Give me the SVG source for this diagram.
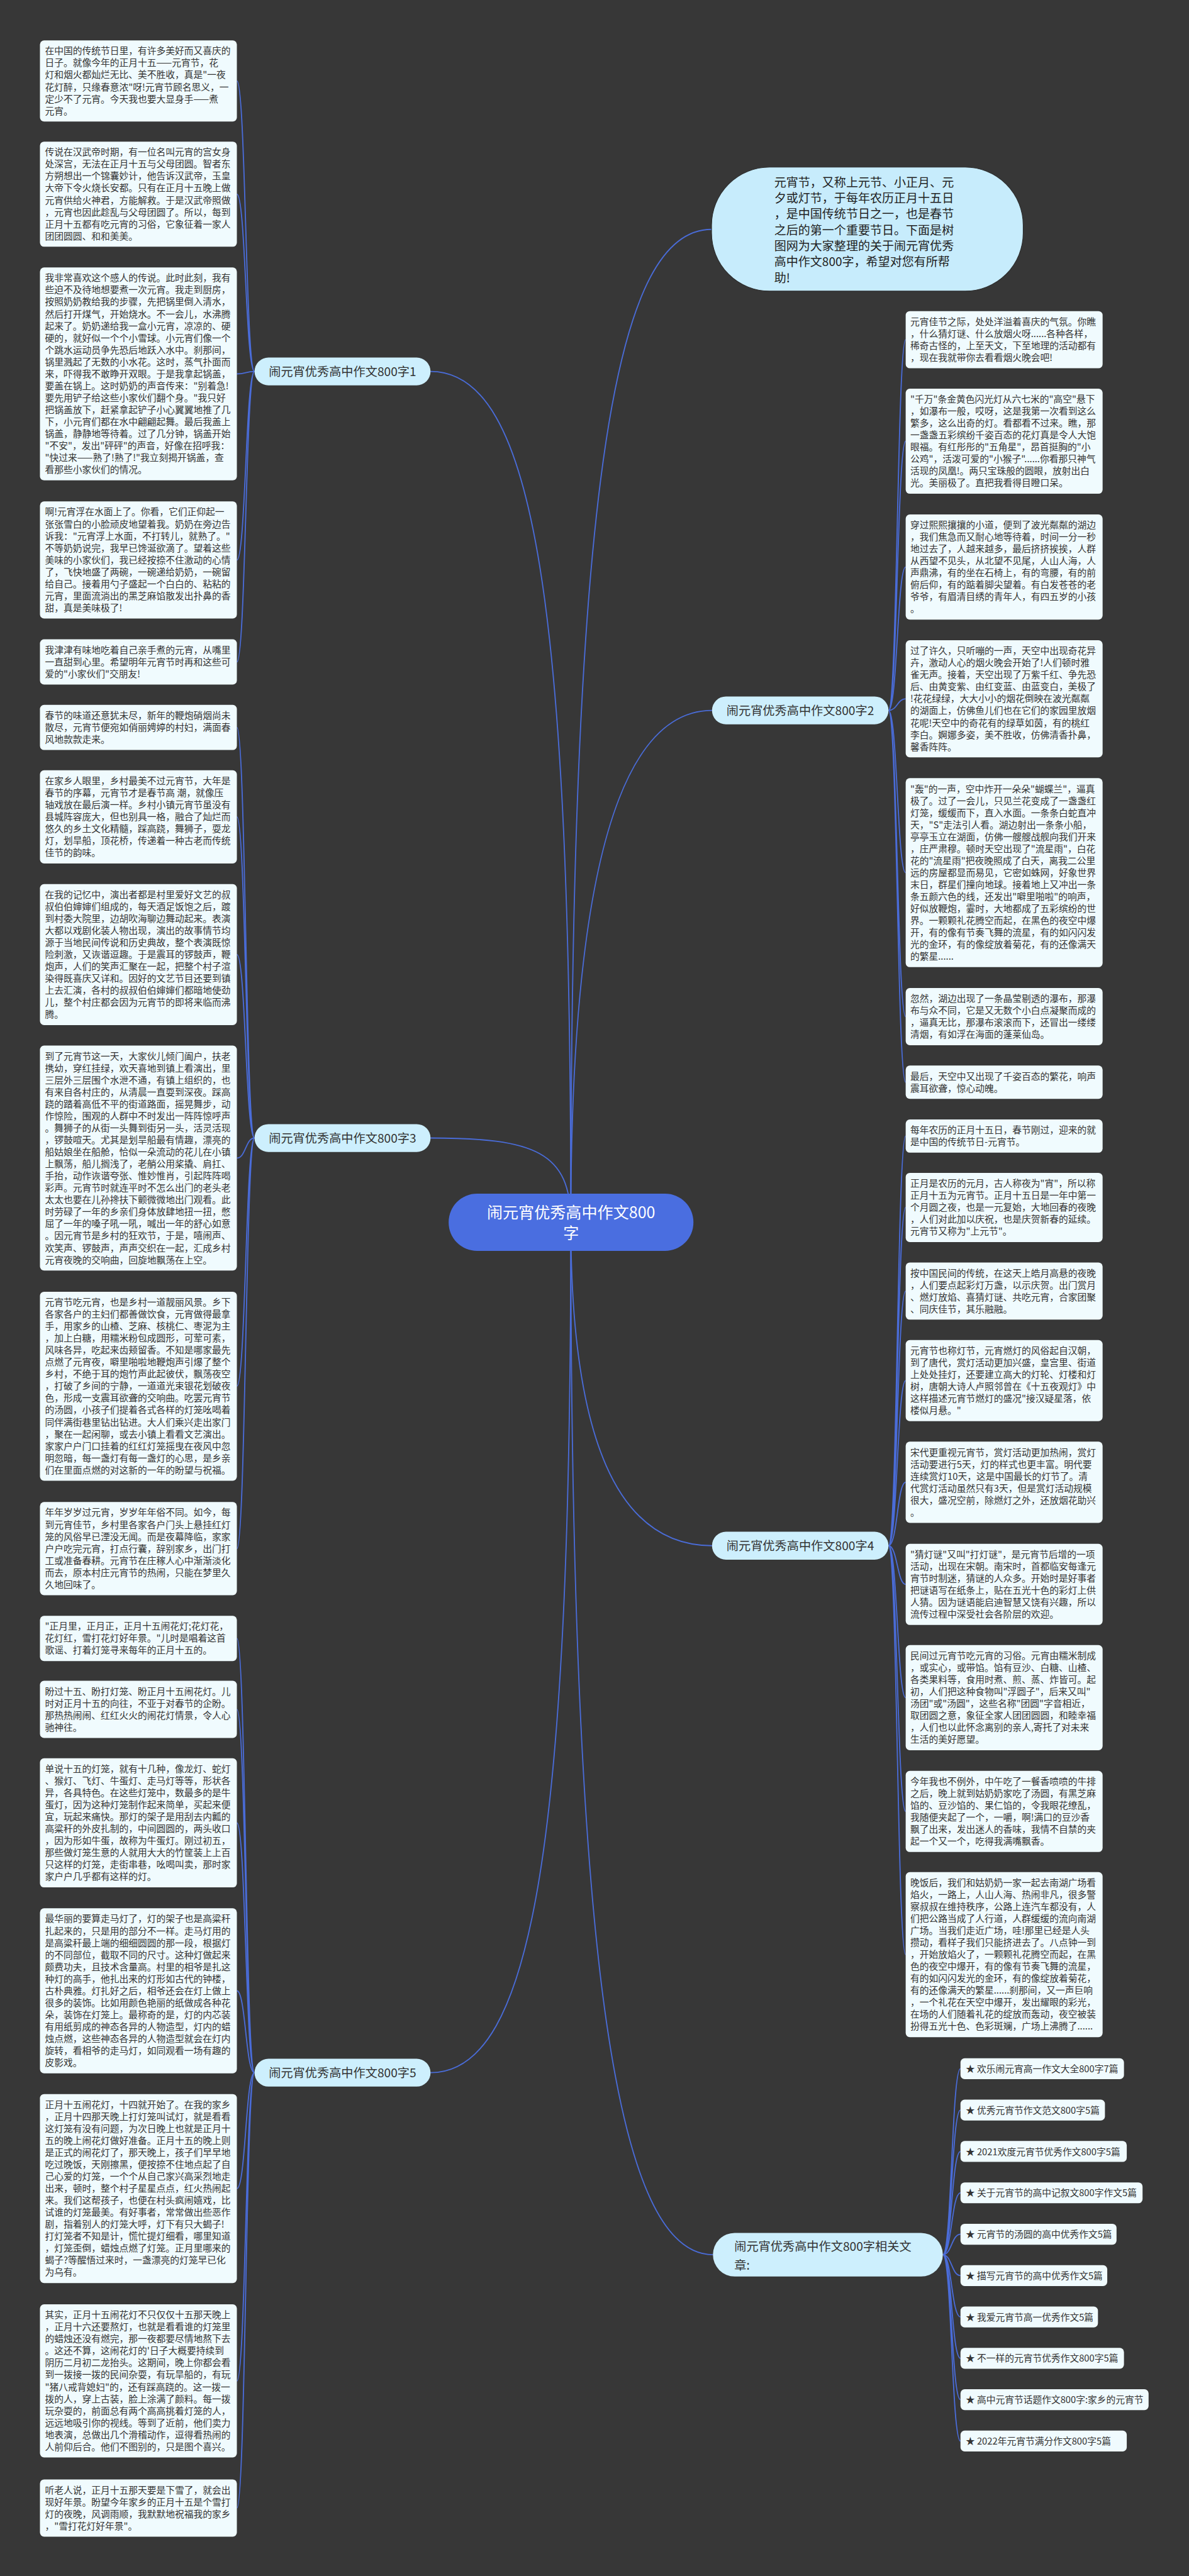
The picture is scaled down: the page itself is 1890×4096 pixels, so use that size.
<svg xmlns="http://www.w3.org/2000/svg" width="1890" height="4096" viewBox="0 0 1890 4096">
<style>
.bg{fill:#373737}
.bx{fill:#f0fbfe}
.nd{fill:#cdeffd}
.lk{fill:none;stroke:#4a6cd8;stroke-width:2.5}
.t{font-family:"Noto Sans CJK SC","Noto Sans",sans-serif;font-size:20px;fill:#333}
.nt{font-family:"Noto Sans CJK SC","Noto Sans",sans-serif;font-size:26px;fill:#333;text-anchor:middle}
.it{font-family:"Noto Sans CJK SC","Noto Sans",sans-serif;font-size:25.8px;fill:#222}
.ct{font-family:"Noto Sans CJK SC","Noto Sans",sans-serif;font-size:34px;fill:#fff;text-anchor:middle}
</style>
<rect class="bg" width="1890" height="4096"/>
<g transform="scale(0.738281)">
<g id="connectors">
<path class="lk" d="M927,800 C1150,800 1229,1300 1229,2632"/>
<path class="lk" d="M927,2451 C1150,2451 1229,2480 1229,2632"/>
<path class="lk" d="M927,4464 C1150,4464 1229,3950 1229,2632"/>
<path class="lk" d="M1229,2632 C1229,1900 1330,1530 1533,1530"/>
<path class="lk" d="M1229,2632 C1229,3100 1330,3329 1533,3329"/>
<path class="lk" d="M1229,2632 C1229,4250 1330,4856 1535,4856"/>
<path class="lk" d="M1229,2632 C1229,1000 1330,494 1532,494"/>
<path class="lk" d="M548,800 C529,800 529,174.4 510,174.4 M548,800 C529,800 529,418.2 510,418.2 M548,800 C529,800 529,805.3 510,805.3 M548,800 C529,800 529,1206.1 510,1206.1 M548,800 C529,800 529,1425.7 510,1425.7"/>
<path class="lk" d="M548,2451 C529,2451 529,1566.7 510,1566.7 M548,2451 C529,2451 529,1759.3 510,1759.3 M548,2451 C529,2451 529,2055.9 510,2055.9 M548,2451 C529,2451 529,2494.2 510,2494.2 M548,2451 C529,2451 529,2985.5 510,2985.5 M548,2451 C529,2451 529,3335.3 510,3335.3"/>
<path class="lk" d="M548,4464 C529,4464 529,3528.7 510,3528.7 M548,4464 C529,4464 529,3681.6 510,3681.6 M548,4464 C529,4464 529,3926 510,3926 M548,4464 C529,4464 529,4287.7 510,4287.7 M548,4464 C529,4464 529,4713.5 510,4713.5 M548,4464 C529,4464 529,5127.8 510,5127.8 M548,4464 C529,4464 529,5401.6 510,5401.6"/>
<path class="lk" d="M1913,1530 C1932,1530 1932,731.6 1950,731.6 M1913,1530 C1932,1530 1932,950.2 1950,950.2 M1913,1530 C1932,1530 1932,1221.2 1950,1221.2 M1913,1530 C1932,1530 1932,1505.1 1950,1505.1 M1913,1530 C1932,1530 1932,1879.5 1950,1879.5 M1913,1530 C1932,1530 1932,2189.6 1950,2189.6 M1913,1530 C1932,1530 1932,2330.8 1950,2330.8"/>
<path class="lk" d="M1913,3329 C1932,3329 1932,2446.8 1950,2446.8 M1913,3329 C1932,3329 1932,2600.5 1950,2600.5 M1913,3329 C1932,3329 1932,2780.6 1950,2780.6 M1913,3329 C1932,3329 1932,2973.4 1950,2973.4 M1913,3329 C1932,3329 1932,3192.4 1950,3192.4 M1913,3329 C1932,3329 1932,3412.4 1950,3412.4 M1913,3329 C1932,3329 1932,3656.2 1950,3656.2 M1913,3329 C1932,3329 1932,3901.4 1950,3901.4 M1913,3329 C1932,3329 1932,4209.7 1950,4209.7"/>
<path class="lk" d="M2030,4856 C2049,4856 2049,4455.5 2068,4455.5 M2030,4856 C2049,4856 2049,4544.6 2068,4544.6 M2030,4856 C2049,4856 2049,4633.7 2068,4633.7 M2030,4856 C2049,4856 2049,4722.8 2068,4722.8 M2030,4856 C2049,4856 2049,4811.9 2068,4811.9 M2030,4856 C2049,4856 2049,4901 2068,4901 M2030,4856 C2049,4856 2049,4990.1 2068,4990.1 M2030,4856 C2049,4856 2049,5079.2 2068,5079.2 M2030,4856 C2049,4856 2049,5168.3 2068,5168.3 M2030,4856 C2049,4856 2049,5257.4 2068,5257.4"/>
</g>

<g id="n-center"><rect x="966" y="2571" width="527" height="123" rx="61" fill="#4a6ee0"/><text class="ct"><tspan x="1229.5" y="2623">闹元宵优秀高中作文800</tspan><tspan x="1229.5" y="2668">字</tspan></text></g>

<g id="n-intro"><rect x="1532" y="360" width="671" height="267" rx="125" fill="#c7ecfc" stroke="#2a2a2a" stroke-width="1.5"/><text class="it"><tspan x="1667" y="402">元宵节，又称上元节、小正月、元</tspan><tspan x="1667" y="436.3">夕或灯节，于每年农历正月十五日</tspan><tspan x="1667" y="470.6">，是中国传统节日之一，也是春节</tspan><tspan x="1667" y="504.9">之后的第一个重要节日。下面是树</tspan><tspan x="1667" y="539.2">图网为大家整理的关于闹元宵优秀</tspan><tspan x="1667" y="573.5">高中作文800字，希望对您有所帮</tspan><tspan x="1667" y="607.8">助!</tspan></text></g>

<g id="n-b1"><rect class="nd" x="548" y="770" width="379" height="60" rx="30"/><text class="nt" x="737.5" y="810">闹元宵优秀高中作文800字1</text></g>
<g id="n-b3"><rect class="nd" x="548" y="2421" width="379" height="60" rx="30"/><text class="nt" x="737.5" y="2461">闹元宵优秀高中作文800字3</text></g>
<g id="n-b5"><rect class="nd" x="548" y="4434" width="379" height="60" rx="30"/><text class="nt" x="737.5" y="4474">闹元宵优秀高中作文800字5</text></g>
<g id="n-b2"><rect class="nd" x="1533" y="1500" width="380" height="60" rx="30"/><text class="nt" x="1723" y="1540">闹元宵优秀高中作文800字2</text></g>
<g id="n-b4"><rect class="nd" x="1533" y="3299" width="380" height="60" rx="30"/><text class="nt" x="1723" y="3339">闹元宵优秀高中作文800字4</text></g>
<g id="n-rel"><rect class="nd" x="1535" y="4809" width="495" height="94" rx="47"/><text class="nt" style="text-anchor:start"><tspan x="1581" y="4848">闹元宵优秀高中作文800字相关文</tspan><tspan x="1581" y="4888">章:</tspan></text></g>

<g id="n-l1"><rect class="bx" x="86" y="87" width="424" height="174.8" rx="9"/><text class="t" y="117"><tspan x="97">在中国的传统节日里，有许多美好而又喜庆的</tspan><tspan x="97" dy="25.8">日子。就像今年的正月十五——元宵节，花</tspan><tspan x="97" dy="25.8">灯和烟火都灿烂无比、美不胜收，真是"一夜</tspan><tspan x="97" dy="25.8">花灯醉，只缘春意浓"呀!元宵节顾名思义，一</tspan><tspan x="97" dy="25.8">定少不了元宵。今天我也要大显身手——煮</tspan><tspan x="97" dy="25.8">元宵。</tspan></text></g>
<g id="n-l2"><rect class="bx" x="86" y="305" width="424" height="226.4" rx="9"/><text class="t" y="335"><tspan x="97">传说在汉武帝时期，有一位名叫元宵的宫女身</tspan><tspan x="97" dy="25.8">处深宫，无法在正月十五与父母团圆。智者东</tspan><tspan x="97" dy="25.8">方朔想出一个锦囊妙计，他告诉汉武帝，玉皇</tspan><tspan x="97" dy="25.8">大帝下令火烧长安都。只有在正月十五晚上做</tspan><tspan x="97" dy="25.8">元宵供给火神君，方能解救。于是汉武帝照做</tspan><tspan x="97" dy="25.8">，元宵也因此趁乱与父母团圆了。所以，每到</tspan><tspan x="97" dy="25.8">正月十五都有吃元宵的习俗，它象征着一家人</tspan><tspan x="97" dy="25.8">团团圆圆、和和美美。</tspan></text></g>
<g id="n-l3"><rect class="bx" x="86" y="576" width="424" height="458.6" rx="9"/><text class="t" y="606"><tspan x="97">我非常喜欢这个感人的传说。此时此刻，我有</tspan><tspan x="97" dy="25.8">些迫不及待地想要煮一次元宵。我走到厨房，</tspan><tspan x="97" dy="25.8">按照奶奶教给我的步骤，先把锅里倒入清水，</tspan><tspan x="97" dy="25.8">然后打开煤气，开始烧水。不一会儿，水沸腾</tspan><tspan x="97" dy="25.8">起来了。奶奶递给我一盒小元宵，凉凉的、硬</tspan><tspan x="97" dy="25.8">硬的，就好似一个个小雪球。小元宵们像一个</tspan><tspan x="97" dy="25.8">个跳水运动员争先恐后地跃入水中。刹那间，</tspan><tspan x="97" dy="25.8">锅里溅起了无数的小水花。这时，蒸气扑面而</tspan><tspan x="97" dy="25.8">来，吓得我不敢睁开双眼。于是我拿起锅盖，</tspan><tspan x="97" dy="25.8">要盖在锅上。这时奶奶的声音传来："别着急!</tspan><tspan x="97" dy="25.8">要先用铲子给这些小家伙们翻个身。"我只好</tspan><tspan x="97" dy="25.8">把锅盖放下，赶紧拿起铲子小心翼翼地推了几</tspan><tspan x="97" dy="25.8">下，小元宵们都在水中翩翩起舞。最后我盖上</tspan><tspan x="97" dy="25.8">锅盖，静静地等待着。过了几分钟，锅盖开始</tspan><tspan x="97" dy="25.8">"不安"，发出"砰砰"的声音，好像在招呼我：</tspan><tspan x="97" dy="25.8">"快过来——熟了!熟了!"我立刻揭开锅盖，查</tspan><tspan x="97" dy="25.8">看那些小家伙们的情况。</tspan></text></g>
<g id="n-l4"><rect class="bx" x="86" y="1080" width="424" height="252.2" rx="9"/><text class="t" y="1110"><tspan x="97">啊!元宵浮在水面上了。你看，它们正仰起一</tspan><tspan x="97" dy="25.8">张张雪白的小脸顽皮地望着我。奶奶在旁边告</tspan><tspan x="97" dy="25.8">诉我："元宵浮上水面，不打转儿，就熟了。"</tspan><tspan x="97" dy="25.8">不等奶奶说完，我早已馋涎欲滴了。望着这些</tspan><tspan x="97" dy="25.8">美味的小家伙们，我已经按捺不住激动的心情</tspan><tspan x="97" dy="25.8">了，飞快地盛了两碗，一碗递给奶奶，一碗留</tspan><tspan x="97" dy="25.8">给自己。接着用勺子盛起一个白白的、粘粘的</tspan><tspan x="97" dy="25.8">元宵，里面流淌出的黑芝麻馅散发出扑鼻的香</tspan><tspan x="97" dy="25.8">甜，真是美味极了!</tspan></text></g>
<g id="n-l5"><rect class="bx" x="86" y="1377" width="424" height="97.4" rx="9"/><text class="t" y="1407"><tspan x="97">我津津有味地吃着自己亲手煮的元宵，从嘴里</tspan><tspan x="97" dy="25.8">一直甜到心里。希望明年元宵节时再和这些可</tspan><tspan x="97" dy="25.8">爱的"小家伙们"交朋友!</tspan></text></g>
<g id="n-l6"><rect class="bx" x="86" y="1518" width="424" height="97.4" rx="9"/><text class="t" y="1548"><tspan x="97">春节的味道还意犹未尽，新年的鞭炮硝烟尚未</tspan><tspan x="97" dy="25.8">散尽，元宵节便宛如俏丽娉婷的村妇，满面春</tspan><tspan x="97" dy="25.8">风地款款走来。</tspan></text></g>
<g id="n-l7"><rect class="bx" x="86" y="1659" width="424" height="200.6" rx="9"/><text class="t" y="1689"><tspan x="97">在家乡人眼里，乡村最美不过元宵节，大年是</tspan><tspan x="97" dy="25.8">春节的序幕，元宵节才是春节高 潮，就像压</tspan><tspan x="97" dy="25.8">轴戏放在最后演一样。乡村小镇元宵节虽没有</tspan><tspan x="97" dy="25.8">县城阵容庞大，但也别具一格，融合了灿烂而</tspan><tspan x="97" dy="25.8">悠久的乡土文化精髓，踩高跷，舞狮子，耍龙</tspan><tspan x="97" dy="25.8">灯，划旱船，顶花桥，传递着一种古老而传统</tspan><tspan x="97" dy="25.8">佳节的韵味。</tspan></text></g>
<g id="n-l8"><rect class="bx" x="86" y="1904" width="424" height="303.8" rx="9"/><text class="t" y="1934"><tspan x="97">在我的记忆中，演出者都是村里爱好文艺的叔</tspan><tspan x="97" dy="25.8">叔伯伯婶婶们组成的，每天酒足饭饱之后，踱</tspan><tspan x="97" dy="25.8">到村委大院里，边胡吹海聊边舞动起来。表演</tspan><tspan x="97" dy="25.8">大都以戏剧化装人物出现，演出的故事情节均</tspan><tspan x="97" dy="25.8">源于当地民间传说和历史典故，整个表演既惊</tspan><tspan x="97" dy="25.8">险刺激，又诙谐逗趣。于是震耳的锣鼓声，鞭</tspan><tspan x="97" dy="25.8">炮声，人们的笑声汇聚在一起，把整个村子渲</tspan><tspan x="97" dy="25.8">染得既喜庆又详和。因好的文艺节目还要到镇</tspan><tspan x="97" dy="25.8">上去汇演，各村的叔叔伯伯婶婶们都暗地使劲</tspan><tspan x="97" dy="25.8">儿，整个村庄都会因为元宵节的即将来临而沸</tspan><tspan x="97" dy="25.8">腾。</tspan></text></g>
<g id="n-l9"><rect class="bx" x="86" y="2252" width="424" height="484.4" rx="9"/><text class="t" y="2282"><tspan x="97">到了元宵节这一天，大家伙儿倾门阖户，扶老</tspan><tspan x="97" dy="25.8">携幼，穿红挂绿，欢天喜地到镇上看演出，里</tspan><tspan x="97" dy="25.8">三层外三层围个水泄不通，有镇上组织的，也</tspan><tspan x="97" dy="25.8">有来自各村庄的，从清晨一直耍到深夜。踩高</tspan><tspan x="97" dy="25.8">跷的踏着高低不平的街道路面，摇晃舞步，动</tspan><tspan x="97" dy="25.8">作惊险，围观的人群中不时发出一阵阵惊呼声</tspan><tspan x="97" dy="25.8">。舞狮子的从街一头舞到街另一头，活灵活现</tspan><tspan x="97" dy="25.8">，锣鼓喧天。尤其是划旱船最有情趣，漂亮的</tspan><tspan x="97" dy="25.8">船姑娘坐在船舱，恰似一朵流动的花儿在小镇</tspan><tspan x="97" dy="25.8">上飘荡，船儿搁浅了，老艄公用桨撬、肩扛、</tspan><tspan x="97" dy="25.8">手抬，动作诙谐夸张、惟妙惟肖，引起阵阵喝</tspan><tspan x="97" dy="25.8">彩声。元宵节时就连平时不怎么出门的老头老</tspan><tspan x="97" dy="25.8">太太也要在儿孙搀扶下颤微微地出门观看。此</tspan><tspan x="97" dy="25.8">时劳碌了一年的乡亲们身体放肆地扭一扭，憋</tspan><tspan x="97" dy="25.8">屈了一年的嗓子吼一吼，喊出一年的舒心如意</tspan><tspan x="97" dy="25.8">。因元宵节是乡村的狂欢节，于是，嘻闹声、</tspan><tspan x="97" dy="25.8">欢笑声、锣鼓声，声声交织在一起，汇成乡村</tspan><tspan x="97" dy="25.8">元宵夜晚的交响曲，回旋地飘荡在上空。</tspan></text></g>
<g id="n-l10"><rect class="bx" x="86" y="2782" width="424" height="407" rx="9"/><text class="t" y="2812"><tspan x="97">元宵节吃元宵，也是乡村一道靓丽风景。乡下</tspan><tspan x="97" dy="25.8">各家各户的主妇们都善做饮食，元宵做得最拿</tspan><tspan x="97" dy="25.8">手，用家乡的山楂、芝麻、核桃仁、枣泥为主</tspan><tspan x="97" dy="25.8">，加上白糖，用糯米粉包成圆形，可荤可素，</tspan><tspan x="97" dy="25.8">风味各异，吃起来齿颊留香。不知是哪家最先</tspan><tspan x="97" dy="25.8">点燃了元宵夜，噼里啪啦地鞭炮声引爆了整个</tspan><tspan x="97" dy="25.8">乡村，不绝于耳的炮竹声此起彼伏，飘荡夜空</tspan><tspan x="97" dy="25.8">，打破了乡间的宁静，一道道光束银花划破夜</tspan><tspan x="97" dy="25.8">色，形成一支震耳欲聋的交响曲。吃罢元宵节</tspan><tspan x="97" dy="25.8">的汤圆，小孩子们提着各式各样的灯笼吆喝着</tspan><tspan x="97" dy="25.8">同伴满街巷里钻出钻进。大人们乘兴走出家门</tspan><tspan x="97" dy="25.8">，聚在一起闲聊，或去小镇上看看文艺演出。</tspan><tspan x="97" dy="25.8">家家户户门口挂着的红红灯笼摇曳在夜风中忽</tspan><tspan x="97" dy="25.8">明忽暗，每一盏灯有每一盏灯的心思，是乡亲</tspan><tspan x="97" dy="25.8">们在里面点燃的对这新的一年的盼望与祝福。</tspan></text></g>
<g id="n-l11"><rect class="bx" x="86" y="3235" width="424" height="200.6" rx="9"/><text class="t" y="3265"><tspan x="97">年年岁岁过元宵，岁岁年年俗不同。如今，每</tspan><tspan x="97" dy="25.8">到元宵佳节，乡村里各家各户门头上悬挂红灯</tspan><tspan x="97" dy="25.8">笼的风俗早已湮没无闻。而是夜幕降临，家家</tspan><tspan x="97" dy="25.8">户户吃完元宵，打点行囊，辞别家乡，出门打</tspan><tspan x="97" dy="25.8">工或准备春耕。元宵节在庄稼人心中渐渐淡化</tspan><tspan x="97" dy="25.8">而去，原本村庄元宵节的热闹，只能在梦里久</tspan><tspan x="97" dy="25.8">久地回味了。</tspan></text></g>
<g id="n-l12"><rect class="bx" x="86" y="3480" width="424" height="97.4" rx="9"/><text class="t" y="3510"><tspan x="97">"正月里，正月正，正月十五闹花灯;花灯花，</tspan><tspan x="97" dy="25.8">花灯红，雪打花灯好年景。"儿时是唱着这首</tspan><tspan x="97" dy="25.8">歌谣、打着灯笼寻来每年的正月十五的。</tspan></text></g>
<g id="n-l13"><rect class="bx" x="86" y="3620" width="424" height="123.2" rx="9"/><text class="t" y="3650"><tspan x="97">盼过十五、盼打灯笼、盼正月十五闹花灯。儿</tspan><tspan x="97" dy="25.8">时对正月十五的向往，不亚于对春节的企盼。</tspan><tspan x="97" dy="25.8">那热热闹闹、红红火火的闹花灯情景，令人心</tspan><tspan x="97" dy="25.8">驰神往。</tspan></text></g>
<g id="n-l14"><rect class="bx" x="86" y="3787" width="424" height="278" rx="9"/><text class="t" y="3817"><tspan x="97">单说十五的灯笼，就有十几种，像龙灯、蛇灯</tspan><tspan x="97" dy="25.8">、猴灯、飞灯、牛蛋灯、走马灯等等，形状各</tspan><tspan x="97" dy="25.8">异，各具特色。在这些灯笼中，数最多的是牛</tspan><tspan x="97" dy="25.8">蛋灯，因为这种灯笼制作起来简单，买起来便</tspan><tspan x="97" dy="25.8">宜，玩起来痛快。那灯的架子是用刮去内瓤的</tspan><tspan x="97" dy="25.8">高粱秆的外皮扎制的，中间圆圆的，两头收口</tspan><tspan x="97" dy="25.8">，因为形如牛蛋，故称为牛蛋灯。刚过初五，</tspan><tspan x="97" dy="25.8">那些做灯笼生意的人就用大大的竹筐装上上百</tspan><tspan x="97" dy="25.8">只这样的灯笼，走街串巷，吆喝叫卖，那时家</tspan><tspan x="97" dy="25.8">家户户几乎都有这样的灯。</tspan></text></g>
<g id="n-l15"><rect class="bx" x="86" y="4110" width="424" height="355.4" rx="9"/><text class="t" y="4140"><tspan x="97">最华丽的要算走马灯了，灯的架子也是高粱秆</tspan><tspan x="97" dy="25.8">扎起来的，只是用的部分不一样。走马灯用的</tspan><tspan x="97" dy="25.8">是高粱秆最上端的细细圆圆的那一段，根据灯</tspan><tspan x="97" dy="25.8">的不同部位，截取不同的尺寸。这种灯做起来</tspan><tspan x="97" dy="25.8">颇费功夫，且技术含量高。村里的相爷是扎这</tspan><tspan x="97" dy="25.8">种灯的高手，他扎出来的灯形如古代的钟楼，</tspan><tspan x="97" dy="25.8">古朴典雅。灯扎好之后，相爷还会在灯上做上</tspan><tspan x="97" dy="25.8">很多的装饰。比如用颜色艳丽的纸做成各种花</tspan><tspan x="97" dy="25.8">朵，装饰在灯笼上。最称奇的是，灯的内芯装</tspan><tspan x="97" dy="25.8">有用纸剪成的神态各异的人物造型，灯内的蜡</tspan><tspan x="97" dy="25.8">烛点燃，这些神态各异的人物造型就会在灯内</tspan><tspan x="97" dy="25.8">旋转，看相爷的走马灯，如同观看一场有趣的</tspan><tspan x="97" dy="25.8">皮影戏。</tspan></text></g>
<g id="n-l16"><rect class="bx" x="86" y="4510" width="424" height="407" rx="9"/><text class="t" y="4540"><tspan x="97">正月十五闹花灯，十四就开始了。在我的家乡</tspan><tspan x="97" dy="25.8">，正月十四那天晚上打灯笼叫试灯，就是看看</tspan><tspan x="97" dy="25.8">这灯笼有没有问题，为次日晚上也就是正月十</tspan><tspan x="97" dy="25.8">五的晚上闹花灯做好准备。正月十五的晚上则</tspan><tspan x="97" dy="25.8">是正式的闹花灯了，那天晚上，孩子们早早地</tspan><tspan x="97" dy="25.8">吃过晚饭，天刚擦黑，便按捺不住地点起了自</tspan><tspan x="97" dy="25.8">己心爱的灯笼，一个个从自己家兴高采烈地走</tspan><tspan x="97" dy="25.8">出来，顿时，整个村子星星点点，红火热闹起</tspan><tspan x="97" dy="25.8">来。我们这帮孩子，也便在村头疯闹嬉戏，比</tspan><tspan x="97" dy="25.8">试谁的灯笼最美。有好事者，常常做出些恶作</tspan><tspan x="97" dy="25.8">剧，指着别人的灯笼大呼，灯下有只大蝎子!</tspan><tspan x="97" dy="25.8">打灯笼者不知是计，慌忙提灯细看，哪里知道</tspan><tspan x="97" dy="25.8">，灯笼歪倒，蜡烛点燃了灯笼。正月里哪来的</tspan><tspan x="97" dy="25.8">蝎子?等醒悟过来时，一盏漂亮的灯笼早已化</tspan><tspan x="97" dy="25.8">为乌有。</tspan></text></g>
<g id="n-l17"><rect class="bx" x="86" y="4963" width="424" height="329.6" rx="9"/><text class="t" y="4993"><tspan x="97">其实，正月十五闹花灯不只仅仅十五那天晚上</tspan><tspan x="97" dy="25.8">，正月十六还要熬灯，也就是看看谁的灯笼里</tspan><tspan x="97" dy="25.8">的蜡烛还没有燃完，那一夜都要尽情地熬下去</tspan><tspan x="97" dy="25.8">。这还不算，这闹花灯的'日子大概要持续到</tspan><tspan x="97" dy="25.8">阴历二月初二龙抬头。这期间，晚上你都会看</tspan><tspan x="97" dy="25.8">到一拨接一拨的民间杂耍，有玩旱船的，有玩</tspan><tspan x="97" dy="25.8">"猪八戒背媳妇"的，还有踩高跷的。这一拨一</tspan><tspan x="97" dy="25.8">拨的人，穿上古装，脸上涂满了颜料。每一拨</tspan><tspan x="97" dy="25.8">玩杂耍的，前面总有两个高高挑着灯笼的人，</tspan><tspan x="97" dy="25.8">远远地吸引你的视线。等到了近前，他们卖力</tspan><tspan x="97" dy="25.8">地表演，总做出几个滑稽动作，逗得看热闹的</tspan><tspan x="97" dy="25.8">人前仰后合。他们不图别的，只是图个喜兴。</tspan></text></g>
<g id="n-l18"><rect class="bx" x="86" y="5340" width="424" height="123.2" rx="9"/><text class="t" y="5370"><tspan x="97">听老人说，正月十五那天要是下雪了，就会出</tspan><tspan x="97" dy="25.8">现好年景。盼望今年家乡的正月十五是个雪打</tspan><tspan x="97" dy="25.8">灯的夜晚，风调雨顺，我默默地祝福我的家乡</tspan><tspan x="97" dy="25.8">，"雪打花灯好年景"。</tspan></text></g>

<g id="n-r1"><rect class="bx" x="1950" y="670" width="424" height="123.2" rx="9"/><text class="t" y="700"><tspan x="1960">元宵佳节之际，处处洋溢着喜庆的气氛。你瞧</tspan><tspan x="1960" dy="25.8">，什么猜灯谜、什么放烟火呀......各种各样，</tspan><tspan x="1960" dy="25.8">稀奇古怪的，上至天文，下至地理的活动都有</tspan><tspan x="1960" dy="25.8">，现在我就带你去看看烟火晚会吧!</tspan></text></g>
<g id="n-r2"><rect class="bx" x="1950" y="837" width="424" height="226.4" rx="9"/><text class="t" y="867"><tspan x="1960">"千万"条金黄色闪光灯从六七米的"高空"悬下</tspan><tspan x="1960" dy="25.8">，如瀑布一般，哎呀，这是我第一次看到这么</tspan><tspan x="1960" dy="25.8">繁多，这么出奇的灯。看都看不过来。瞧，那</tspan><tspan x="1960" dy="25.8">一盏盏五彩缤纷千姿百态的花灯真是令人大饱</tspan><tspan x="1960" dy="25.8">眼福。有红彤彤的"五角星"，昂首挺胸的"小</tspan><tspan x="1960" dy="25.8">公鸡"，活泼可爱的"小猴子"......你看那只神气</tspan><tspan x="1960" dy="25.8">活现的凤凰!。两只宝珠般的圆眼，放射出白</tspan><tspan x="1960" dy="25.8">光。美丽极了。直把我看得目瞪口呆。</tspan></text></g>
<g id="n-r3"><rect class="bx" x="1950" y="1108" width="424" height="226.4" rx="9"/><text class="t" y="1138"><tspan x="1960">穿过熙熙攘攘的小道，便到了波光粼粼的湖边</tspan><tspan x="1960" dy="25.8">，我们焦急而又耐心地等待着，时间一分一秒</tspan><tspan x="1960" dy="25.8">地过去了，人越来越多，最后挤挤挨挨，人群</tspan><tspan x="1960" dy="25.8">从西望不见头，从北望不见尾，人山人海，人</tspan><tspan x="1960" dy="25.8">声鼎沸，有的坐在石椅上，有的弯腰，有的前</tspan><tspan x="1960" dy="25.8">俯后仰，有的踮着脚尖望着。有白发苍苍的老</tspan><tspan x="1960" dy="25.8">爷爷，有眉清目绣的青年人，有四五岁的小孩</tspan><tspan x="1960" dy="25.8">。</tspan></text></g>
<g id="n-r4"><rect class="bx" x="1950" y="1379" width="424" height="252.2" rx="9"/><text class="t" y="1409"><tspan x="1960">过了许久，只听嘣的一声，天空中出现奇花异</tspan><tspan x="1960" dy="25.8">卉，激动人心的烟火晚会开始了!人们顿时雅</tspan><tspan x="1960" dy="25.8">雀无声。接着，天空出现了万紫千红、争先恐</tspan><tspan x="1960" dy="25.8">后、由黄变紫、由红变蓝、由蓝变白，美极了</tspan><tspan x="1960" dy="25.8">!花花绿绿，大大小小的烟花倒映在波光粼粼</tspan><tspan x="1960" dy="25.8">的湖面上，仿佛鱼儿们也在它们的家园里放烟</tspan><tspan x="1960" dy="25.8">花呢!天空中的奇花有的绿草如茵，有的桃红</tspan><tspan x="1960" dy="25.8">李白。婀娜多姿，美不胜收，仿佛清香扑鼻，</tspan><tspan x="1960" dy="25.8">馨香阵阵。</tspan></text></g>
<g id="n-r5"><rect class="bx" x="1950" y="1676" width="424" height="407" rx="9"/><text class="t" y="1706"><tspan x="1960">"轰"的一声，空中炸开一朵朵"蝴蝶兰"，逼真</tspan><tspan x="1960" dy="25.8">极了。过了一会儿，只见兰花变成了一盏盏红</tspan><tspan x="1960" dy="25.8">灯笼，缓缓而下，直入水面。一条条白蛇直冲</tspan><tspan x="1960" dy="25.8">天，"S"走法引人看。湖边射出一条条小船，</tspan><tspan x="1960" dy="25.8">亭亭玉立在湖面，仿佛一艘艘战舰向我们开来</tspan><tspan x="1960" dy="25.8">，庄严肃穆。顿时天空出现了"流星雨"，白花</tspan><tspan x="1960" dy="25.8">花的"流星雨"把夜晚照成了白天，离我二公里</tspan><tspan x="1960" dy="25.8">远的房屋都显而易见，它密如蛛网，好象世界</tspan><tspan x="1960" dy="25.8">末日，群星们撞向地球。接着地上又冲出一条</tspan><tspan x="1960" dy="25.8">条五颜六色的线，还发出"噼里啪啦"的响声，</tspan><tspan x="1960" dy="25.8">好似放鞭炮，霎时，大地都成了五彩缤纷的世</tspan><tspan x="1960" dy="25.8">界。一颗颗礼花腾空而起，在黑色的夜空中爆</tspan><tspan x="1960" dy="25.8">开，有的像有节奏飞舞的流星，有的如闪闪发</tspan><tspan x="1960" dy="25.8">光的金环，有的像绽放着菊花，有的还像满天</tspan><tspan x="1960" dy="25.8">的繁星......</tspan></text></g>
<g id="n-r6"><rect class="bx" x="1950" y="2128" width="424" height="123.2" rx="9"/><text class="t" y="2158"><tspan x="1960">忽然，湖边出现了一条晶莹剔透的瀑布，那瀑</tspan><tspan x="1960" dy="25.8">布与众不同，它是又无数个小白点凝聚而成的</tspan><tspan x="1960" dy="25.8">，逼真无比，那瀑布滚滚而下，还冒出一缕缕</tspan><tspan x="1960" dy="25.8">清烟，有如浮在海面的蓬莱仙岛。</tspan></text></g>
<g id="n-r7"><rect class="bx" x="1950" y="2295" width="424" height="71.6" rx="9"/><text class="t" y="2325"><tspan x="1960">最后，天空中又出现了千姿百态的繁花，响声</tspan><tspan x="1960" dy="25.8">震耳欲聋，惊心动魄。</tspan></text></g>
<g id="n-r8"><rect class="bx" x="1950" y="2411" width="424" height="71.6" rx="9"/><text class="t" y="2441"><tspan x="1960">每年农历的正月十五日，春节刚过，迎来的就</tspan><tspan x="1960" dy="25.8">是中国的传统节日-元宵节。</tspan></text></g>
<g id="n-r9"><rect class="bx" x="1950" y="2526" width="424" height="149" rx="9"/><text class="t" y="2556"><tspan x="1960">正月是农历的元月，古人称夜为"宵"，所以称</tspan><tspan x="1960" dy="25.8">正月十五为元宵节。正月十五日是一年中第一</tspan><tspan x="1960" dy="25.8">个月圆之夜，也是一元复始，大地回春的夜晚</tspan><tspan x="1960" dy="25.8">，人们对此加以庆祝，也是庆贺新春的延续。</tspan><tspan x="1960" dy="25.8">元宵节又称为"上元节"。</tspan></text></g>
<g id="n-r10"><rect class="bx" x="1950" y="2719" width="424" height="123.2" rx="9"/><text class="t" y="2749"><tspan x="1960">按中国民间的传统，在这天上皓月高悬的夜晚</tspan><tspan x="1960" dy="25.8">，人们要点起彩灯万盏，以示庆贺。出门赏月</tspan><tspan x="1960" dy="25.8">、燃灯放焰、喜猜灯谜、共吃元宵，合家团聚</tspan><tspan x="1960" dy="25.8">、同庆佳节，其乐融融。</tspan></text></g>
<g id="n-r11"><rect class="bx" x="1950" y="2886" width="424" height="174.8" rx="9"/><text class="t" y="2916"><tspan x="1960">元宵节也称灯节，元宵燃灯的风俗起自汉朝，</tspan><tspan x="1960" dy="25.8">到了唐代，赏灯活动更加兴盛，皇宫里、街道</tspan><tspan x="1960" dy="25.8">上处处挂灯，还要建立高大的灯轮、灯楼和灯</tspan><tspan x="1960" dy="25.8">树，唐朝大诗人卢照邻曾在《十五夜观灯》中</tspan><tspan x="1960" dy="25.8">这样描述元宵节燃灯的盛况"接汉疑星落，依</tspan><tspan x="1960" dy="25.8">楼似月悬。"</tspan></text></g>
<g id="n-r12"><rect class="bx" x="1950" y="3105" width="424" height="174.8" rx="9"/><text class="t" y="3135"><tspan x="1960">宋代更重视元宵节，赏灯活动更加热闹，赏灯</tspan><tspan x="1960" dy="25.8">活动要进行5天，灯的样式也更丰富。明代要</tspan><tspan x="1960" dy="25.8">连续赏灯10天，这是中国最长的灯节了。清</tspan><tspan x="1960" dy="25.8">代赏灯活动虽然只有3天，但是赏灯活动规模</tspan><tspan x="1960" dy="25.8">很大，盛况空前，除燃灯之外，还放烟花助兴</tspan><tspan x="1960" dy="25.8">。</tspan></text></g>
<g id="n-r13"><rect class="bx" x="1950" y="3325" width="424" height="174.8" rx="9"/><text class="t" y="3355"><tspan x="1960">"猜灯谜"又叫"打灯谜"，是元宵节后增的一项</tspan><tspan x="1960" dy="25.8">活动，出现在宋朝。南宋时，首都临安每逢元</tspan><tspan x="1960" dy="25.8">宵节时制迷，猜谜的人众多。开始时是好事者</tspan><tspan x="1960" dy="25.8">把谜语写在纸条上，贴在五光十色的彩灯上供</tspan><tspan x="1960" dy="25.8">人猜。因为谜语能启迪智慧又饶有兴趣，所以</tspan><tspan x="1960" dy="25.8">流传过程中深受社会各阶层的欢迎。</tspan></text></g>
<g id="n-r14"><rect class="bx" x="1950" y="3543" width="424" height="226.4" rx="9"/><text class="t" y="3573"><tspan x="1960">民间过元宵节吃元宵的习俗。元宵由糯米制成</tspan><tspan x="1960" dy="25.8">，或实心，或带馅。馅有豆沙、白糖、山楂、</tspan><tspan x="1960" dy="25.8">各类果料等，食用时煮、煎、蒸、炸皆可。起</tspan><tspan x="1960" dy="25.8">初，人们把这种食物叫"浮圆子"，后来又叫"</tspan><tspan x="1960" dy="25.8">汤团"或"汤圆"，这些名称"团圆"字音相近，</tspan><tspan x="1960" dy="25.8">取团圆之意，象征全家人团团圆圆，和睦幸福</tspan><tspan x="1960" dy="25.8">，人们也以此怀念离别的亲人,寄托了对未来</tspan><tspan x="1960" dy="25.8">生活的美好愿望。</tspan></text></g>
<g id="n-r15"><rect class="bx" x="1950" y="3814" width="424" height="174.8" rx="9"/><text class="t" y="3844"><tspan x="1960">今年我也不例外，中午吃了一餐香喷喷的牛排</tspan><tspan x="1960" dy="25.8">之后，晚上就到姑奶奶家吃了汤圆，有黑芝麻</tspan><tspan x="1960" dy="25.8">馅的、豆沙馅的、果仁馅的，令我眼花缭乱，</tspan><tspan x="1960" dy="25.8">我随便夹起了一个，一嚼，啊!满口的豆沙香</tspan><tspan x="1960" dy="25.8">飘了出来，发出迷人的香味，我情不自禁的夹</tspan><tspan x="1960" dy="25.8">起一个又一个，吃得我满嘴飘香。</tspan></text></g>
<g id="n-r16"><rect class="bx" x="1950" y="4032" width="424" height="355.4" rx="9"/><text class="t" y="4062"><tspan x="1960">晚饭后，我们和姑奶奶一家一起去南湖广场看</tspan><tspan x="1960" dy="25.8">焰火，一路上，人山人海、热闹非凡，很多警</tspan><tspan x="1960" dy="25.8">察叔叔在维持秩序，公路上连汽车都没有，人</tspan><tspan x="1960" dy="25.8">们把公路当成了人行道，人群缓缓的流向南湖</tspan><tspan x="1960" dy="25.8">广场。当我们走近广场，哇!那里已经是人头</tspan><tspan x="1960" dy="25.8">攒动，看样子我们只能挤进去了。八点钟一到</tspan><tspan x="1960" dy="25.8">，开始放焰火了，一颗颗礼花腾空而起，在黑</tspan><tspan x="1960" dy="25.8">色的夜空中爆开，有的像有节奏飞舞的流星，</tspan><tspan x="1960" dy="25.8">有的如闪闪发光的金环，有的像绽放着菊花，</tspan><tspan x="1960" dy="25.8">有的还像满天的繁星......刹那间，又一声巨响</tspan><tspan x="1960" dy="25.8">，一个礼花在天空中爆开，发出耀眼的彩光，</tspan><tspan x="1960" dy="25.8">在场的人们随着礼花的绽放而轰动，夜空被装</tspan><tspan x="1960" dy="25.8">扮得五光十色、色彩斑斓，广场上沸腾了......</tspan></text></g>

<g id="n-a1"><rect class="bx" x="2068" y="4433" width="352" height="45" rx="9"/><text class="t" x="2079" y="4463">★ 欢乐闹元宵高一作文大全800字7篇</text></g>
<g id="n-a2"><rect class="bx" x="2068" y="4522.1" width="311" height="45" rx="9"/><text class="t" x="2079" y="4552.1">★ 优秀元宵节作文范文800字5篇</text></g>
<g id="n-a3"><rect class="bx" x="2068" y="4611.2" width="358" height="45" rx="9"/><text class="t" x="2079" y="4641.2">★ 2021欢度元宵节优秀作文800字5篇</text></g>
<g id="n-a4"><rect class="bx" x="2068" y="4700.3" width="392" height="45" rx="9"/><text class="t" x="2079" y="4730.3">★ 关于元宵节的高中记叙文800字作文5篇</text></g>
<g id="n-a5"><rect class="bx" x="2068" y="4789.4" width="336" height="45" rx="9"/><text class="t" x="2079" y="4819.4">★ 元宵节的汤圆的高中优秀作文5篇</text></g>
<g id="n-a6"><rect class="bx" x="2068" y="4878.5" width="316" height="45" rx="9"/><text class="t" x="2079" y="4908.5">★ 描写元宵节的高中优秀作文5篇</text></g>
<g id="n-a7"><rect class="bx" x="2068" y="4967.6" width="296" height="45" rx="9"/><text class="t" x="2079" y="4997.6">★ 我爱元宵节高一优秀作文5篇</text></g>
<g id="n-a8"><rect class="bx" x="2068" y="5056.7" width="352" height="45" rx="9"/><text class="t" x="2079" y="5086.7">★ 不一样的元宵节优秀作文800字5篇</text></g>
<g id="n-a9"><rect class="bx" x="2068" y="5145.8" width="405" height="45" rx="9"/><text class="t" x="2079" y="5175.8">★ 高中元宵节话题作文800字:家乡的元宵节</text></g>
<g id="n-a10"><rect class="bx" x="2068" y="5234.9" width="358" height="45" rx="9"/><text class="t" x="2079" y="5264.9">★ 2022年元宵节满分作文800字5篇</text></g>
</g>
</svg>
